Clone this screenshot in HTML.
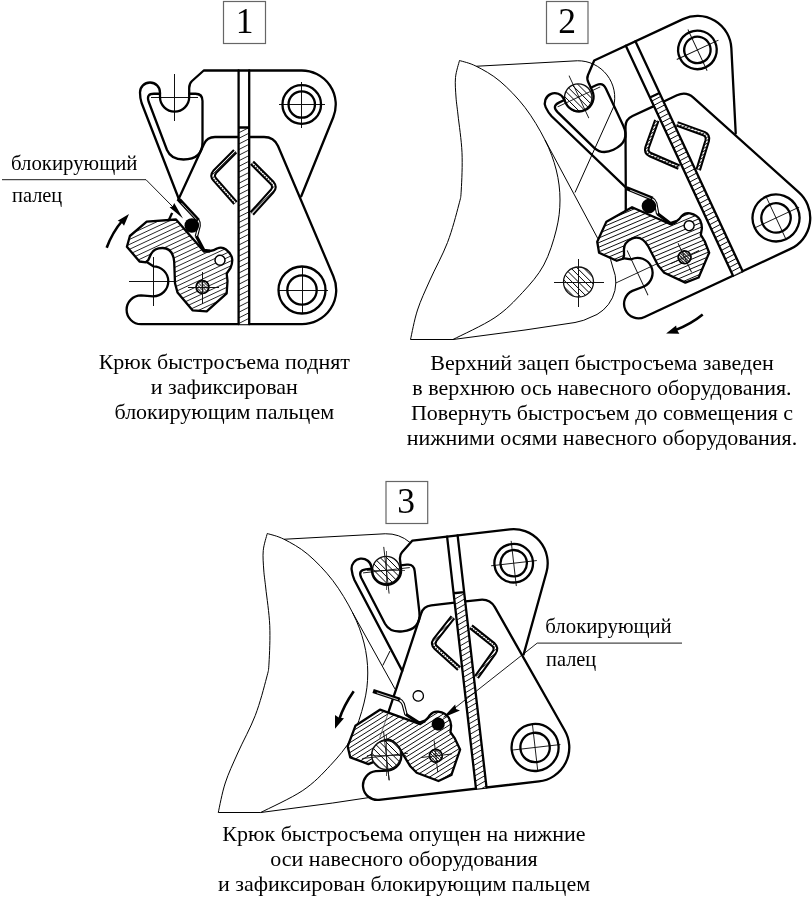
<!DOCTYPE html>
<html lang="ru"><head><meta charset="utf-8"><title>Быстросъем</title>
<style>html,body{margin:0;padding:0;background:#fff}svg{display:block;will-change:transform;opacity:0.999}
.k{fill:none;stroke:#000;stroke-width:2.3;stroke-linejoin:round;stroke-linecap:round}</style></head>
<body><svg width="812" height="900" viewBox="0 0 812 900" font-family="'Liberation Serif', serif" fill="#000">
<rect width="812" height="900" fill="#fff"/>
<path d="M151,97 H198 M174.5,73.5 V120.5 M279,104.5 H325 M301.75,82 V127.5 M278,290 H327.5 M302,266.5 V313 M129,281.3 H175 M153.3,256.5 V306" fill="none" stroke="#111" stroke-width="1.0" shape-rendering="crispEdges"/>
<path d="M178.75,198.75 L141.6,103 Q140,98 140,92.5 A10,10 0 0 1 160,92.5 L160,97 A14.6,14.6 0 0 0 189.2,97 L189.2,88 Q189.2,83.5 192,81 L203.75,70.5 L301.75,70.5 A34.0,34.0 0 0 1 333.27,117.24 L301.25,196.25" class="k"/>
<path d="M160,93.75 L154,93.75 Q146,93.75 148.6,101.5 L167,150 Q171,159.5 183.5,159.5 Q202.5,159.5 202.5,142 L202.5,101 Q202.5,93.75 195.5,93.75 L189.2,93.75" class="k"/>
<path d="M160,239 L178.75,198.75 L204,144 Q207,137 215,137 L238.5,137 M249.5,137 L264,137 Q274,137 278,146 L333.33,276.25 A34.2,34.2 0 0 1 302,324.20 L141,324.20 A14.4,14.4 0 0 1 141,295.4 L153.3,296.3 A15,15 0 0 0 153.3,266.3 L146,261.5" class="k"/>
<clipPath id="c1"><rect x="238.6" y="127.5" width="10.6" height="196.7"/></clipPath><rect x="238.6" y="127.5" width="10.6" height="196.7" fill="#fff" stroke="none"/><path d="M104.4,173.2L283.8,81.8M106.6,177.7L286.0,86.2M108.9,182.1L288.3,90.7M111.2,186.6L290.6,95.1M113.4,191.0L292.8,99.6M115.7,195.5L295.1,104.1M118.0,199.9L297.4,108.5M120.2,204.4L299.7,113.0M122.5,208.8L301.9,117.4M124.8,213.3L304.2,121.9M127.1,217.7L306.5,126.3M129.3,222.2L308.7,130.8M131.6,226.7L311.0,135.2M133.9,231.1L313.3,139.7M136.1,235.6L315.5,144.2M138.4,240.0L317.8,148.6M140.7,244.5L320.1,153.1M142.9,248.9L322.4,157.5M145.2,253.4L324.6,162.0M147.5,257.8L326.9,166.4M149.8,262.3L329.2,170.9M152.0,266.8L331.4,175.3M154.3,271.2L333.7,179.8M156.6,275.7L336.0,184.2M158.8,280.1L338.2,188.7M161.1,284.6L340.5,193.2M163.4,289.0L342.8,197.6M165.6,293.5L345.1,202.1M167.9,297.9L347.3,206.5M170.2,302.4L349.6,211.0M172.5,306.8L351.9,215.4M174.7,311.3L354.1,219.9M177.0,315.8L356.4,224.3M179.3,320.2L358.7,228.8M181.5,324.7L360.9,233.3M183.8,329.1L363.2,237.7M186.1,333.6L365.5,242.2M188.3,338.0L367.8,246.6M190.6,342.5L370.0,251.1M192.9,346.9L372.3,255.5M195.2,351.4L374.6,260.0M197.4,355.9L376.8,264.4M199.7,360.3L379.1,268.9M202.0,364.8L381.4,273.3M204.2,369.2L383.6,277.8" clip-path="url(#c1)" fill="none" stroke="#000" stroke-width="0.85"/>
<path d="M238.6,70.5 V324.2 M249.2,70.5 V324.2 M238.6,127.5 H249.2" class="k"/>
<circle cx="301.75" cy="104.5" r="19.3" class="k"/><circle cx="301.75" cy="104.5" r="13.2" class="k"/>
<circle cx="302" cy="290" r="23.5" class="k"/><circle cx="302" cy="290" r="14.7" class="k"/>
<mask id="m2" maskUnits="userSpaceOnUse" x="200" y="140" width="90" height="85"><rect x="200" y="140" width="90" height="85" fill="#000"/>
<path d="M235.2,151.2 L214.8,171.8 Q211.5,175.7 214.8,179.5 L235.5,203" fill="none" stroke="#fff" stroke-width="1.7" stroke-linejoin="round"/>
<path d="M252,162.8 L272.2,183 Q275.6,187 272.2,191 L251.8,213.5" fill="none" stroke="#fff" stroke-width="1.7" stroke-linejoin="round"/>
</mask>
<path d="M235.2,151.2 L214.8,171.8 Q211.5,175.7 214.8,179.5 L235.5,203" fill="none" stroke="#000" stroke-width="5.6" stroke-linejoin="round" stroke-linecap="butt"/>
<path d="M235.2,151.2 L214.8,171.8 Q211.5,175.7 214.8,179.5 L235.5,203" fill="none" stroke="#fff" stroke-width="1.5" stroke-linejoin="round" stroke-linecap="butt"/>
<path d="M252,162.8 L272.2,183 Q275.6,187 272.2,191 L251.8,213.5" fill="none" stroke="#000" stroke-width="5.6" stroke-linejoin="round" stroke-linecap="butt"/>
<path d="M252,162.8 L272.2,183 Q275.6,187 272.2,191 L251.8,213.5" fill="none" stroke="#fff" stroke-width="1.5" stroke-linejoin="round" stroke-linecap="butt"/>
<path d="M162.5,180.4L242.9,100.0M164.4,182.2L244.7,101.9M166.2,184.1L246.6,103.7M168.0,185.9L248.4,105.5M169.9,187.8L250.3,107.4M171.7,189.6L252.1,109.2M173.6,191.4L253.9,111.1M175.4,193.3L255.8,112.9M177.2,195.1L257.6,114.7M179.1,196.9L259.4,116.6M180.9,198.8L261.3,118.4M182.8,200.6L263.1,120.3M184.6,202.5L265.0,122.1M186.4,204.3L266.8,123.9M188.3,206.1L268.6,125.8M190.1,208.0L270.5,127.6M191.9,209.8L272.3,129.4M193.8,211.7L274.2,131.3M195.6,213.5L276.0,133.1M197.5,215.3L277.8,135.0M199.3,217.2L279.7,136.8M201.1,219.0L281.5,138.6M203.0,220.8L283.3,140.5M204.8,222.7L285.2,142.3M206.7,224.5L287.0,144.2M208.5,226.4L288.9,146.0M210.3,228.2L290.7,147.8M212.2,230.0L292.5,149.7M214.0,231.9L294.4,151.5M215.8,233.7L296.2,153.3M217.7,235.6L298.1,155.2M219.5,237.4L299.9,157.0M221.4,239.2L301.7,158.9M223.2,241.1L303.6,160.7M225.0,242.9L305.4,162.5M226.9,244.7L307.2,164.4M228.7,246.6L309.1,166.2M230.6,248.4L310.9,168.1M232.4,250.3L312.8,169.9M234.2,252.1L314.6,171.7M236.1,253.9L316.4,173.6M237.9,255.8L318.3,175.4M239.7,257.6L320.1,177.2M241.6,259.5L322.0,179.1M243.4,261.3L323.8,180.9M245.3,263.1L325.6,182.8M247.1,265.0L327.5,184.6" mask="url(#m2)" fill="none" stroke="#000" stroke-width="0.9"/>
<path d="M177.6,201 L172.4,213" stroke="#fff" stroke-width="4" fill="none"/>
<clipPath id="c3"><path d="M146.7,221.7 L176,219.5 L204.2,251.7 L210,251 Q214,250.5 217,248.5 Q222,246.5 226,249.5 Q232,254 232.3,260 Q232.3,264 230.5,268 L226.7,273.5 L227.5,281 L226.7,293.3 L206.7,311.3 L192.5,310.3 L177.5,292.5 L175,283.3 L174.2,262 Q173,248 162.5,248 Q154,248 151,254 L148.3,260 L146,262.3 L139.5,261.5 L126.9,246.8 L129.9,236 Z"/></clipPath><path d="M146.7,221.7 L176,219.5 L204.2,251.7 L210,251 Q214,250.5 217,248.5 Q222,246.5 226,249.5 Q232,254 232.3,260 Q232.3,264 230.5,268 L226.7,273.5 L227.5,281 L226.7,293.3 L206.7,311.3 L192.5,310.3 L177.5,292.5 L175,283.3 L174.2,262 Q173,248 162.5,248 Q154,248 151,254 L148.3,260 L146,262.3 L139.5,261.5 L126.9,246.8 L129.9,236 Z" fill="#fff" stroke="none"/><path d="M75.1,220.6L213.4,156.1M77.0,224.7L215.3,160.1M78.9,228.7L217.2,164.2M80.7,232.7L219.1,168.2M82.6,236.8L221.0,172.2M84.5,240.8L222.8,176.3M86.4,244.8L224.7,180.3M88.3,248.9L226.6,184.3M90.1,252.9L228.5,188.4M92.0,256.9L230.4,192.4M93.9,261.0L232.3,196.4M95.8,265.0L234.1,200.5M97.7,269.0L236.0,204.5M99.5,273.1L237.9,208.5M101.4,277.1L239.8,212.6M103.3,281.1L241.7,216.6M105.2,285.2L243.5,220.6M107.1,289.2L245.4,224.7M108.9,293.2L247.3,228.7M110.8,297.3L249.2,232.7M112.7,301.3L251.1,236.8M114.6,305.3L252.9,240.8M116.5,309.4L254.8,244.8M118.3,313.4L256.7,248.9M120.2,317.4L258.6,252.9M122.1,321.5L260.5,256.9M124.0,325.5L262.3,261.0M125.9,329.5L264.2,265.0M127.7,333.6L266.1,269.0M129.6,337.6L268.0,273.1M131.5,341.6L269.9,277.1M133.4,345.7L271.7,281.1M135.3,349.7L273.6,285.2M137.2,353.7L275.5,289.2M139.0,357.8L277.4,293.2M140.9,361.8L279.3,297.3M142.8,365.8L281.1,301.3M144.7,369.9L283.0,305.3M146.6,373.9L284.9,309.4" clip-path="url(#c3)" fill="none" stroke="#000" stroke-width="0.85"/>
<path d="M146.7,221.7 L176,219.5 L204.2,251.7 L210,251 Q214,250.5 217,248.5 Q222,246.5 226,249.5 Q232,254 232.3,260 Q232.3,264 230.5,268 L226.7,273.5 L227.5,281 L226.7,293.3 L206.7,311.3 L192.5,310.3 L177.5,292.5 L175,283.3 L174.2,262 Q173,248 162.5,248 Q154,248 151,254 L148.3,260 L146,262.3 L139.5,261.5 L126.9,246.8 L129.9,236 Z" fill="none" stroke="#000" stroke-width="2.3" stroke-linejoin="round"/>
<circle cx="220" cy="260.3" r="5" fill="#fff" stroke="#000" stroke-width="1.5"/>
<path d="M179.1,199.8 L198.2,220.4" fill="none" stroke="#000" stroke-width="4.2" stroke-linecap="butt"/>
<path d="M181.5,203.2 L196.5,219.4" fill="none" stroke="#fff" stroke-width="0.7"/>
<path d="M198.6,219.2 Q200.8,222 200.3,226 L197.6,236.6 M196.6,221.4 Q198.2,223.2 197.8,226 L195.2,236.4" fill="none" stroke="#000" stroke-width="1.1"/>
<path d="M196.3,236 L204,250.4 L210,251.2" fill="none" stroke="#000" stroke-width="3.2" stroke-linejoin="round"/>
<circle cx="202.5" cy="287" r="6.4" fill="#fff" stroke="none"/>
<clipPath id="c4"><circle cx="202.5" cy="287" r="6.4"/></clipPath>
<path d="M205.5,265.1L224.4,284.0M204.0,266.7L222.8,285.5M202.4,268.3L221.2,287.1M200.9,269.8L219.7,288.6M199.3,271.4L218.1,290.2M197.8,272.9L216.6,291.7M196.2,274.5L215.0,293.3M194.6,276.0L213.5,294.9M193.1,277.6L211.9,296.4M191.5,279.1L210.4,298.0M190.0,280.7L208.8,299.5M188.4,282.3L207.2,301.1M186.9,283.8L205.7,302.6M185.3,285.4L204.1,304.2M183.8,286.9L202.6,305.7M182.2,288.5L201.0,307.3M180.6,290.0L199.5,308.9" clip-path="url(#c4)" fill="none" stroke="#000" stroke-width="0.9"/>
<path d="M180.2,283.5L199.0,264.7M182.1,285.4L200.9,266.6M183.9,287.2L202.7,268.4M185.7,289.1L204.6,270.2M187.6,290.9L206.4,272.1M189.4,292.7L208.2,273.9M191.2,294.6L210.1,275.7M193.1,296.4L211.9,277.6M194.9,298.3L213.8,279.4M196.8,300.1L215.6,281.3M198.6,301.9L217.4,283.1M200.4,303.8L219.3,284.9M202.3,305.6L221.1,286.8M204.1,307.4L222.9,288.6M206.0,309.3L224.8,290.5" clip-path="url(#c4)" fill="none" stroke="#555" stroke-width="0.6"/>
<circle cx="202.5" cy="287" r="6.4" fill="none" stroke="#000" stroke-width="1.7"/>
<path d="M187.5,287 H218.5 M202.5,271.5 V303.5" fill="none" stroke="#111" stroke-width="1.0" shape-rendering="crispEdges"/>
<circle cx="191.8" cy="225.5" r="7.3" fill="#000"/>
<path d="M2,179.7 H146 L173,207" fill="none" stroke="#000" stroke-width="0.9"/>
<path d="M183,218.5 L169.6,207.3 L172.6,206.6 L174.2,203.1 Z" fill="#000"/>
<path d="M106.7,247.7 Q112.5,232 122.5,220.5" fill="none" stroke="#000" stroke-width="2.6"/>
<path d="M129,214 L117.7,220.7 L121.3,222.3 L124,225.7 Z" fill="#000"/>
<path d="M459.50,60.50 C458.83,63.33 456.08,71.42 455.50,77.50 C454.92,83.58 455.58,90.75 456.00,97.00 C456.42,103.25 457.00,105.75 458.00,115.00 C459.00,124.25 461.46,140.00 462.00,152.50 C462.54,165.00 461.79,181.25 461.25,190.00 C460.71,198.75 461.04,196.25 458.75,205.00 C456.46,213.75 452.29,230.00 447.50,242.50 C442.71,255.00 435.00,268.75 430.00,280.00 C425.00,291.25 420.75,300.08 417.50,310.00 C414.25,319.92 411.67,334.58 410.50,339.50 L453,339.5" fill="none" stroke="#000" stroke-width="1.0"/>
<path d="M459.50,60.50 C462.29,61.46 469.50,62.79 476.25,66.25 C483.00,69.71 491.88,74.38 500.00,81.25 C508.12,88.12 517.50,97.71 525.00,107.50 C532.50,117.29 539.79,129.58 545.00,140.00 C550.21,150.42 553.75,160.00 556.25,170.00 C558.75,180.00 560.00,190.00 560.00,200.00 C560.00,210.00 558.96,219.17 556.25,230.00 C553.54,240.83 549.38,254.58 543.75,265.00 C538.12,275.42 530.62,283.75 522.50,292.50 C514.38,301.25 506.58,309.67 495.00,317.50 C483.42,325.33 460.00,335.83 453.00,339.50" fill="none" stroke="#000" stroke-width="1.0"/>
<path d="M476.25,66.25 L577.5,60.75 A36.8,36.8 0 0 1 613.5,107 L575,192.5" fill="none" stroke="#000" stroke-width="1.0"/>
<path d="M545,140 L597.5,238 Q609,250 613,268 A37,37 0 0 1 590,317.5 Q585,320.5 575,322.5 L525,330 L453,339.5" fill="none" stroke="#000" stroke-width="1.0"/>
<clipPath id="c5"><circle cx="578.25" cy="97.5" r="13.7"/></clipPath><circle cx="578.25" cy="97.5" r="13.7" fill="#fff" stroke="none"/><path d="M584.4,59.1L616.6,91.3M581.2,62.3L613.5,94.5M578.0,65.5L610.3,97.7M574.9,68.7L607.1,100.9M571.7,71.8L603.9,104.1M568.5,75.0L600.7,107.3M565.3,78.2L597.5,110.4M562.1,81.4L594.4,113.6M559.0,84.6L591.2,116.8M555.8,87.7L588.0,120.0M552.6,90.9L584.8,123.2M549.4,94.1L581.6,126.3M546.2,97.3L578.5,129.5M543.0,100.5L575.3,132.7M539.9,103.7L572.1,135.9" clip-path="url(#c5)" fill="none" stroke="#000" stroke-width="1.0"/>
<circle cx="578.25" cy="97.5" r="13.7" fill="none" stroke="#111" stroke-width="1.3"/>
<clipPath id="c6"><circle cx="578.5" cy="282" r="15"/></clipPath><circle cx="578.5" cy="282" r="15" fill="#fff" stroke="none"/><path d="M583.4,242.3L618.2,277.1M580.2,245.5L615.0,280.3M577.0,248.7L611.8,283.5M573.8,251.9L608.6,286.7M570.6,255.0L605.5,289.9M567.4,258.2L602.3,293.1M564.3,261.4L599.1,296.2M561.1,264.6L595.9,299.4M557.9,267.8L592.7,302.6M554.7,270.9L589.6,305.8M551.5,274.1L586.4,309.0M548.4,277.3L583.2,312.1M545.2,280.5L580.0,315.3M542.0,283.7L576.8,318.5M538.8,286.9L573.6,321.7" clip-path="url(#c6)" fill="none" stroke="#000" stroke-width="1.0"/>
<circle cx="578.5" cy="282" r="15" fill="none" stroke="#111" stroke-width="1.3"/>
<path d="M553.5,282 H604.0 M578.5,258.5 V306.5" fill="none" stroke="#111" stroke-width="1" shape-rendering="crispEdges"/>
<g transform="translate(697.4,49.9) rotate(-25.0) translate(-301.75,-104.5)">
<path d="M151,97 H198 M174.5,73.5 V120.5 M279,104.5 H325 M301.75,82 V127.5 M278,290 H327.5 M302,266.5 V313 M129,281.3 H175 M153.3,256.5 V306" fill="none" stroke="#111" stroke-width="0.9"/>
<path d="M178.75,198.75 L141.6,103 Q140,98 140,92.5 A10,10 0 0 1 160,92.5 L160,97 A14.6,14.6 0 0 0 189.2,97 L189.2,88 Q189.2,83.5 192,81 L203.75,70.5 L301.75,70.5 A34.0,34.0 0 0 1 333.27,117.24 L301.25,196.25" class="k"/>
<path d="M160,93.75 L154,93.75 Q146,93.75 148.6,101.5 L167,150 Q171,159.5 183.5,159.5 Q202.5,159.5 202.5,142 L202.5,101 Q202.5,93.75 195.5,93.75 L189.2,93.75" class="k"/>
<path d="M160,239 L178.75,198.75 L204,144 Q207,137 215,137 L238.5,137 M249.5,137 L264,137 Q274,137 278,146 L333.33,276.25 A34.2,34.2 0 0 1 302,324.20 L141,324.20 A14.4,14.4 0 0 1 141,295.4 L153.3,296.3 A15,15 0 0 0 153.3,266.3 L146,261.5" class="k"/>
<clipPath id="c7"><rect x="238.6" y="127.5" width="10.6" height="196.7"/></clipPath><rect x="238.6" y="127.5" width="10.6" height="196.7" fill="#fff" stroke="none"/><path d="M137.8,122.8L338.9,112.3M138.0,127.5L339.1,117.0M138.3,132.2L339.4,121.7M138.5,136.9L339.6,126.4M138.8,141.6L339.9,131.1M139.0,146.3L340.1,135.7M139.3,151.0L340.4,140.4M139.5,155.7L340.6,145.1M139.8,160.4L340.9,149.8M140.0,165.1L341.1,154.5M140.3,169.8L341.3,159.2M140.5,174.4L341.6,163.9M140.7,179.1L341.8,168.6M141.0,183.8L342.1,173.3M141.2,188.5L342.3,178.0M141.5,193.2L342.6,182.7M141.7,197.9L342.8,187.4M142.0,202.6L343.1,192.1M142.2,207.3L343.3,196.8M142.5,212.0L343.6,201.5M142.7,216.7L343.8,206.2M143.0,221.4L344.1,210.8M143.2,226.1L344.3,215.5M143.5,230.8L344.5,220.2M143.7,235.5L344.8,224.9M143.9,240.2L345.0,229.6M144.2,244.8L345.3,234.3M144.4,249.5L345.5,239.0M144.7,254.2L345.8,243.7M144.9,258.9L346.0,248.4M145.2,263.6L346.3,253.1M145.4,268.3L346.5,257.8M145.7,273.0L346.8,262.5M145.9,277.7L347.0,267.2M146.2,282.4L347.3,271.9M146.4,287.1L347.5,276.6M146.7,291.8L347.7,281.2M146.9,296.5L348.0,285.9M147.1,301.2L348.2,290.6M147.4,305.9L348.5,295.3M147.6,310.6L348.7,300.0M147.9,315.3L349.0,304.7M148.1,319.9L349.2,309.4M148.4,324.6L349.5,314.1M148.6,329.3L349.7,318.8M148.9,334.0L350.0,323.5M149.1,338.7L350.2,328.2" clip-path="url(#c7)" fill="none" stroke="#000" stroke-width="0.85"/>
<path d="M238.6,70.5 V324.2 M249.2,70.5 V324.2 M238.6,127.5 H249.2" class="k"/>
<circle cx="301.75" cy="104.5" r="19.3" class="k"/><circle cx="301.75" cy="104.5" r="13.2" class="k"/>
<circle cx="302" cy="290" r="23.5" class="k"/><circle cx="302" cy="290" r="14.7" class="k"/>
<mask id="m8" maskUnits="userSpaceOnUse" x="200" y="140" width="90" height="85"><rect x="200" y="140" width="90" height="85" fill="#000"/>
<path d="M235.2,151.2 L214.8,171.8 Q211.5,175.7 214.8,179.5 L235.5,203" fill="none" stroke="#fff" stroke-width="1.7" stroke-linejoin="round"/>
<path d="M252,162.8 L272.2,183 Q275.6,187 272.2,191 L251.8,213.5" fill="none" stroke="#fff" stroke-width="1.7" stroke-linejoin="round"/>
</mask>
<path d="M235.2,151.2 L214.8,171.8 Q211.5,175.7 214.8,179.5 L235.5,203" fill="none" stroke="#000" stroke-width="5.6" stroke-linejoin="round" stroke-linecap="butt"/>
<path d="M235.2,151.2 L214.8,171.8 Q211.5,175.7 214.8,179.5 L235.5,203" fill="none" stroke="#fff" stroke-width="1.5" stroke-linejoin="round" stroke-linecap="butt"/>
<path d="M252,162.8 L272.2,183 Q275.6,187 272.2,191 L251.8,213.5" fill="none" stroke="#000" stroke-width="5.6" stroke-linejoin="round" stroke-linecap="butt"/>
<path d="M252,162.8 L272.2,183 Q275.6,187 272.2,191 L251.8,213.5" fill="none" stroke="#fff" stroke-width="1.5" stroke-linejoin="round" stroke-linecap="butt"/>
<path d="M183.2,127.9L296.4,118.0M183.4,130.5L296.6,120.6M183.6,133.1L296.9,123.2M183.9,135.7L297.1,125.7M184.1,138.2L297.3,128.3M184.3,140.8L297.5,130.9M184.5,143.4L297.8,133.5M184.8,146.0L298.0,136.1M185.0,148.6L298.2,138.7M185.2,151.2L298.4,141.3M185.4,153.8L298.7,143.9M185.7,156.4L298.9,146.5M185.9,159.0L299.1,149.1M186.1,161.6L299.3,151.6M186.3,164.1L299.6,154.2M186.6,166.7L299.8,156.8M186.8,169.3L300.0,159.4M187.0,171.9L300.3,162.0M187.3,174.5L300.5,164.6M187.5,177.1L300.7,167.2M187.7,179.7L300.9,169.8M187.9,182.3L301.2,172.4M188.2,184.9L301.4,175.0M188.4,187.5L301.6,177.5M188.6,190.0L301.8,180.1M188.8,192.6L302.1,182.7M189.1,195.2L302.3,185.3M189.3,197.8L302.5,187.9M189.5,200.4L302.7,190.5M189.7,203.0L303.0,193.1M190.0,205.6L303.2,195.7M190.2,208.2L303.4,198.3M190.4,210.8L303.7,200.9M190.7,213.4L303.9,203.4M190.9,215.9L304.1,206.0M191.1,218.5L304.3,208.6M191.3,221.1L304.6,211.2M191.6,223.7L304.8,213.8M191.8,226.3L305.0,216.4M192.0,228.9L305.2,219.0M192.2,231.5L305.5,221.6M192.5,234.1L305.7,224.2M192.7,236.7L305.9,226.8M192.9,239.3L306.1,229.3M193.1,241.8L306.4,231.9M193.4,244.4L306.6,234.5M193.6,247.0L306.8,237.1" mask="url(#m8)" fill="none" stroke="#000" stroke-width="0.9"/>
<clipPath id="c9"><path d="M146.7,221.7 L176,219.5 L204.2,251.7 L210,251 Q214,250.5 217,248.5 Q222,246.5 226,249.5 Q232,254 232.3,260 Q232.3,264 230.5,268 L226.7,273.5 L227.5,281 L226.7,293.3 L206.7,311.3 L192.5,310.3 L177.5,292.5 L175,283.3 L174.2,262 Q173,248 162.5,248 Q154,248 151,254 L148.3,260 L146,262.3 L139.5,261.5 L126.9,246.8 L129.9,236 Z"/></clipPath><path d="M146.7,221.7 L176,219.5 L204.2,251.7 L210,251 Q214,250.5 217,248.5 Q222,246.5 226,249.5 Q232,254 232.3,260 Q232.3,264 230.5,268 L226.7,273.5 L227.5,281 L226.7,293.3 L206.7,311.3 L192.5,310.3 L177.5,292.5 L175,283.3 L174.2,262 Q173,248 162.5,248 Q154,248 151,254 L148.3,260 L146,262.3 L139.5,261.5 L126.9,246.8 L129.9,236 Z" fill="#fff" stroke="none"/><path d="M106.6,180.7L259.1,186.0M106.4,185.0L259.0,190.3M106.3,189.3L258.8,194.6M106.1,193.6L258.7,198.9M106.0,197.9L258.5,203.2M105.8,202.2L258.4,207.5M105.7,206.5L258.2,211.8M105.5,210.8L258.1,216.1M105.4,215.1L257.9,220.4M105.2,219.4L257.8,224.7M105.1,223.7L257.6,229.0M104.9,228.0L257.5,233.3M104.8,232.3L257.3,237.6M104.6,236.6L257.2,241.9M104.5,240.8L257.0,246.2M104.3,245.1L256.9,250.5M104.2,249.4L256.7,254.8M104.0,253.7L256.6,259.1M103.9,258.0L256.4,263.4M103.7,262.3L256.3,267.7M103.6,266.6L256.1,272.0M103.4,270.9L256.0,276.3M103.3,275.2L255.8,280.6M103.1,279.5L255.7,284.9M103.0,283.8L255.5,289.2M102.8,288.1L255.4,293.4M102.7,292.4L255.2,297.7M102.5,296.7L255.1,302.0M102.4,301.0L254.9,306.3M102.2,305.3L254.8,310.6M102.1,309.6L254.6,314.9M101.9,313.9L254.5,319.2M101.8,318.2L254.3,323.5M101.6,322.5L254.2,327.8M101.5,326.8L254.0,332.1M101.3,331.1L253.9,336.4M101.2,335.4L253.7,340.7M101.0,339.7L253.6,345.0M100.9,344.0L253.4,349.3" clip-path="url(#c9)" fill="none" stroke="#000" stroke-width="0.85"/>
<path d="M146.7,221.7 L176,219.5 L204.2,251.7 L210,251 Q214,250.5 217,248.5 Q222,246.5 226,249.5 Q232,254 232.3,260 Q232.3,264 230.5,268 L226.7,273.5 L227.5,281 L226.7,293.3 L206.7,311.3 L192.5,310.3 L177.5,292.5 L175,283.3 L174.2,262 Q173,248 162.5,248 Q154,248 151,254 L148.3,260 L146,262.3 L139.5,261.5 L126.9,246.8 L129.9,236 Z" fill="none" stroke="#000" stroke-width="2.3" stroke-linejoin="round"/>
<circle cx="220" cy="260.3" r="5" fill="#fff" stroke="#000" stroke-width="1.5"/>
<path d="M179.1,199.8 L198.2,220.4" fill="none" stroke="#000" stroke-width="4.2" stroke-linecap="butt"/>
<path d="M181.5,203.2 L196.5,219.4" fill="none" stroke="#fff" stroke-width="0.7"/>
<path d="M198.6,219.2 Q200.8,222 200.3,226 L197.6,236.6 M196.6,221.4 Q198.2,223.2 197.8,226 L195.2,236.4" fill="none" stroke="#000" stroke-width="1.1"/>
<path d="M196.3,236 L204,250.4 L210,251.2" fill="none" stroke="#000" stroke-width="3.2" stroke-linejoin="round"/>
<circle cx="202.5" cy="287" r="6.4" fill="#fff" stroke="none"/>
<clipPath id="c10"><circle cx="202.5" cy="287" r="6.4"/></clipPath>
<path d="M214.5,268.5L223.6,293.5M212.4,269.2L221.5,294.2M210.4,270.0L219.5,295.0M208.3,270.7L217.4,295.7M206.2,271.5L215.3,296.5M204.1,272.2L213.3,297.3M202.1,273.0L211.2,298.0M200.0,273.7L209.1,298.8M197.9,274.5L207.1,299.5M195.9,275.2L205.0,300.3M193.8,276.0L202.9,301.0M191.7,276.7L200.9,301.8M189.7,277.5L198.8,302.5M187.6,278.3L196.7,303.3M185.5,279.0L194.6,304.0M183.5,279.8L192.6,304.8M181.4,280.5L190.5,305.5" clip-path="url(#c10)" fill="none" stroke="#000" stroke-width="0.9"/>
<path d="M183.8,274.5L208.8,265.3M184.7,276.9L209.7,267.8M185.5,279.3L210.6,270.2M186.4,281.8L211.5,272.7M187.3,284.2L212.3,275.1M188.2,286.7L213.2,277.6M189.1,289.1L214.1,280.0M190.0,291.6L215.0,282.4M190.9,294.0L215.9,284.9M191.8,296.4L216.8,287.3M192.7,298.9L217.7,289.8M193.5,301.3L218.6,292.2M194.4,303.8L219.5,294.7M195.3,306.2L220.3,297.1M196.2,308.7L221.2,299.5" clip-path="url(#c10)" fill="none" stroke="#555" stroke-width="0.6"/>
<circle cx="202.5" cy="287" r="6.4" fill="none" stroke="#000" stroke-width="1.7"/>
<path d="M187.5,287 H218.5 M202.5,271.5 V303.5" fill="none" stroke="#111" stroke-width="0.9"/>
<circle cx="191.8" cy="225.5" r="7.3" fill="#000"/>
</g>
<path d="M702.7,314.4 Q691,324 675,330.2" fill="none" stroke="#000" stroke-width="2.6"/>
<path d="M666.1,333.6 L676.1,325.5 L677,330 L679.4,333.8 Z" fill="#000"/>
<g transform="translate(-192.25,473)">
<path d="M459.50,60.50 C458.83,63.33 456.08,71.42 455.50,77.50 C454.92,83.58 455.58,90.75 456.00,97.00 C456.42,103.25 457.00,105.75 458.00,115.00 C459.00,124.25 461.46,140.00 462.00,152.50 C462.54,165.00 461.79,181.25 461.25,190.00 C460.71,198.75 461.04,196.25 458.75,205.00 C456.46,213.75 452.29,230.00 447.50,242.50 C442.71,255.00 435.00,268.75 430.00,280.00 C425.00,291.25 420.75,300.08 417.50,310.00 C414.25,319.92 411.67,334.58 410.50,339.50 L453,339.5" fill="none" stroke="#000" stroke-width="1.0"/>
<path d="M459.50,60.50 C462.29,61.46 469.50,62.79 476.25,66.25 C483.00,69.71 491.88,74.38 500.00,81.25 C508.12,88.12 517.50,97.71 525.00,107.50 C532.50,117.29 539.79,129.58 545.00,140.00 C550.21,150.42 553.75,160.00 556.25,170.00 C558.75,180.00 560.00,190.00 560.00,200.00 C560.00,210.00 558.96,219.17 556.25,230.00 C553.54,240.83 549.38,254.58 543.75,265.00 C538.12,275.42 530.62,283.75 522.50,292.50 C514.38,301.25 506.58,309.67 495.00,317.50 C483.42,325.33 460.00,335.83 453.00,339.50" fill="none" stroke="#000" stroke-width="1.0"/>
<path d="M476.25,66.25 L577.5,60.75 A36.8,36.8 0 0 1 602.3,69.5 M582.25,178 L575,192.5" fill="none" stroke="#000" stroke-width="1.0"/>
<path d="M545,140 L587.25,216 M563,324.3 L525,330 L453,339.5" fill="none" stroke="#000" stroke-width="1.0"/>
</g>
<clipPath id="c11"><circle cx="386.25" cy="570" r="13.7"/></clipPath><circle cx="386.25" cy="570" r="13.7" fill="#fff" stroke="none"/><path d="M392.4,531.6L424.6,563.8M389.2,534.8L421.5,567.0M386.0,538.0L418.3,570.2M382.9,541.2L415.1,573.4M379.7,544.3L411.9,576.6M376.5,547.5L408.7,579.8M373.3,550.7L405.5,582.9M370.1,553.9L402.4,586.1M367.0,557.1L399.2,589.3M363.8,560.2L396.0,592.5M360.6,563.4L392.8,595.7M357.4,566.6L389.6,598.8M354.2,569.8L386.5,602.0M351.0,573.0L383.3,605.2M347.9,576.2L380.1,608.4" clip-path="url(#c11)" fill="none" stroke="#000" stroke-width="1.0"/>
<circle cx="386.25" cy="570" r="13.7" fill="none" stroke="#111" stroke-width="1.3"/>
<g transform="translate(513.7,563.2) rotate(-6.54) translate(-301.75,-104.5)">
<path d="M151,97 H198 M174.5,73.5 V120.5 M279,104.5 H325 M301.75,82 V127.5 M278,290 H327.5 M302,266.5 V313 M129,281.3 H175 M153.3,256.5 V306" fill="none" stroke="#111" stroke-width="0.9"/>
<path d="M178.75,198.75 L141.6,103 Q140,98 140,92.5 A10,10 0 0 1 160,92.5 L160,97 A14.6,14.6 0 0 0 189.2,97 L189.2,88 Q189.2,83.5 192,81 L203.75,70.5 L301.75,70.5 A34.0,34.0 0 0 1 333.27,117.24 L301.25,196.25" class="k"/>
<path d="M160,93.75 L154,93.75 Q146,93.75 148.6,101.5 L167,150 Q171,159.5 183.5,159.5 Q202.5,159.5 202.5,142 L202.5,101 Q202.5,93.75 195.5,93.75 L189.2,93.75" class="k"/>
<path d="M160,239 L178.75,198.75 L204,144 Q207,137 215,137 L238.5,137 M249.5,137 L264,137 Q274,137 278,146 L333.33,276.25 A34.2,34.2 0 0 1 302,324.20 L141,324.20 A14.4,14.4 0 0 1 141,295.4 L153.3,296.3 A15,15 0 0 0 153.3,266.3 L146,261.5" class="k"/>
<clipPath id="c12"><rect x="238.6" y="127.5" width="10.6" height="196.7"/></clipPath><rect x="238.6" y="127.5" width="10.6" height="196.7" fill="#fff" stroke="none"/><path d="M109.6,168.7L294.3,88.5M111.5,173.1L296.2,92.9M113.4,177.5L298.1,97.4M115.3,181.9L300.1,101.8M117.2,186.3L302.0,106.2M119.2,190.7L303.9,110.6M121.1,195.1L305.8,115.0M123.0,199.5L307.7,119.4M124.9,203.9L309.6,123.8M126.8,208.3L311.5,128.2M128.7,212.7L313.4,132.6M130.6,217.1L315.3,137.0M132.5,221.6L317.3,141.4M134.4,226.0L319.2,145.8M136.4,230.4L321.1,150.2M138.3,234.8L323.0,154.6M140.2,239.2L324.9,159.0M142.1,243.6L326.8,163.4M144.0,248.0L328.7,167.8M145.9,252.4L330.6,172.2M147.8,256.8L332.5,176.6M149.7,261.2L334.4,181.0M151.6,265.6L336.4,185.4M153.6,270.0L338.3,189.8M155.5,274.4L340.2,194.2M157.4,278.8L342.1,198.6M159.3,283.2L344.0,203.0M161.2,287.6L345.9,207.4M163.1,292.0L347.8,211.8M165.0,296.4L349.7,216.2M166.9,300.8L351.6,220.6M168.8,305.2L353.6,225.0M170.7,309.6L355.5,229.4M172.7,314.0L357.4,233.9M174.6,318.4L359.3,238.3M176.5,322.8L361.2,242.7M178.4,327.2L363.1,247.1M180.3,331.6L365.0,251.5M182.2,336.0L366.9,255.9M184.1,340.4L368.8,260.3M186.0,344.8L370.8,264.7M187.9,349.2L372.7,269.1M189.9,353.6L374.6,273.5M191.8,358.1L376.5,277.9M193.7,362.5L378.4,282.3" clip-path="url(#c12)" fill="none" stroke="#000" stroke-width="0.85"/>
<path d="M238.6,70.5 V324.2 M249.2,70.5 V324.2 M238.6,127.5 H249.2" class="k"/>
<circle cx="301.75" cy="104.5" r="19.3" class="k"/><circle cx="301.75" cy="104.5" r="13.2" class="k"/>
<circle cx="302" cy="290" r="23.5" class="k"/><circle cx="302" cy="290" r="14.7" class="k"/>
<mask id="m13" maskUnits="userSpaceOnUse" x="200" y="140" width="90" height="85"><rect x="200" y="140" width="90" height="85" fill="#000"/>
<path d="M235.2,151.2 L214.8,171.8 Q211.5,175.7 214.8,179.5 L235.5,203" fill="none" stroke="#fff" stroke-width="1.7" stroke-linejoin="round"/>
<path d="M252,162.8 L272.2,183 Q275.6,187 272.2,191 L251.8,213.5" fill="none" stroke="#fff" stroke-width="1.7" stroke-linejoin="round"/>
</mask>
<path d="M235.2,151.2 L214.8,171.8 Q211.5,175.7 214.8,179.5 L235.5,203" fill="none" stroke="#000" stroke-width="5.6" stroke-linejoin="round" stroke-linecap="butt"/>
<path d="M235.2,151.2 L214.8,171.8 Q211.5,175.7 214.8,179.5 L235.5,203" fill="none" stroke="#fff" stroke-width="1.5" stroke-linejoin="round" stroke-linecap="butt"/>
<path d="M252,162.8 L272.2,183 Q275.6,187 272.2,191 L251.8,213.5" fill="none" stroke="#000" stroke-width="5.6" stroke-linejoin="round" stroke-linecap="butt"/>
<path d="M252,162.8 L272.2,183 Q275.6,187 272.2,191 L251.8,213.5" fill="none" stroke="#fff" stroke-width="1.5" stroke-linejoin="round" stroke-linecap="butt"/>
<path d="M164.6,163.9L259.4,101.3M166.1,166.1L260.9,103.4M167.5,168.3L262.3,105.6M168.9,170.5L263.7,107.8M170.4,172.6L265.2,110.0M171.8,174.8L266.6,112.1M173.2,177.0L268.0,114.3M174.7,179.1L269.5,116.5M176.1,181.3L270.9,118.6M177.5,183.5L272.3,120.8M179.0,185.6L273.8,123.0M180.4,187.8L275.2,125.1M181.8,190.0L276.6,127.3M183.3,192.1L278.1,129.5M184.7,194.3L279.5,131.6M186.1,196.5L280.9,133.8M187.6,198.6L282.4,136.0M189.0,200.8L283.8,138.2M190.4,203.0L285.2,140.3M191.9,205.2L286.7,142.5M193.3,207.3L288.1,144.7M194.7,209.5L289.5,146.8M196.2,211.7L291.0,149.0M197.6,213.8L292.4,151.2M199.0,216.0L293.8,153.3M200.5,218.2L295.3,155.5M201.9,220.3L296.7,157.7M203.3,222.5L298.1,159.8M204.8,224.7L299.6,162.0M206.2,226.8L301.0,164.2M207.6,229.0L302.4,166.4M209.1,231.2L303.9,168.5M210.5,233.4L305.3,170.7M211.9,235.5L306.7,172.9M213.4,237.7L308.2,175.0M214.8,239.9L309.6,177.2M216.2,242.0L311.0,179.4M217.7,244.2L312.5,181.5M219.1,246.4L313.9,183.7M220.5,248.5L315.3,185.9M222.0,250.7L316.8,188.0M223.4,252.9L318.2,190.2M224.8,255.0L319.6,192.4M226.3,257.2L321.1,194.5M227.7,259.4L322.5,196.7M229.1,261.6L323.9,198.9M230.6,263.7L325.4,201.1" mask="url(#m13)" fill="none" stroke="#000" stroke-width="0.9"/>
<circle cx="191.8" cy="225.5" r="5.2" fill="#fff" stroke="#000" stroke-width="1.3"/>
<g transform="rotate(-22.5,202.5,287)">
<clipPath id="c14"><path d="M146.7,221.7 L176,219.5 L204.2,251.7 L210,251 Q214,250.5 217,248.5 Q222,246.5 226,249.5 Q232,254 232.3,260 Q232.3,264 230.5,268 L226.7,273.5 L227.5,281 L226.7,293.3 L206.7,311.3 L192.5,310.3 L177.5,292.5 L175,283.3 L174.2,262 Q173,248 162.5,248 Q154,248 151,254 L148.3,260 L146,262.3 L139.5,261.5 L126.9,246.8 L129.9,236 Z"/></clipPath><path d="M146.7,221.7 L176,219.5 L204.2,251.7 L210,251 Q214,250.5 217,248.5 Q222,246.5 226,249.5 Q232,254 232.3,260 Q232.3,264 230.5,268 L226.7,273.5 L227.5,281 L226.7,293.3 L206.7,311.3 L192.5,310.3 L177.5,292.5 L175,283.3 L174.2,262 Q173,248 162.5,248 Q154,248 151,254 L148.3,260 L146,262.3 L139.5,261.5 L126.9,246.8 L129.9,236 Z" fill="#fff" stroke="none"/><path d="M99.4,185.1L251.9,177.2M99.7,189.2L252.1,181.4M99.9,193.4L252.3,185.6M100.1,197.6L252.5,189.8M100.3,201.8L252.8,193.9M100.5,206.0L253.0,198.1M100.7,210.2L253.2,202.3M101.0,214.4L253.4,206.5M101.2,218.6L253.6,210.7M101.4,222.8L253.8,214.9M101.6,227.0L254.1,219.1M101.8,231.2L254.3,223.3M102.0,235.4L254.5,227.5M102.3,239.6L254.7,231.7M102.5,243.8L254.9,235.9M102.7,248.0L255.1,240.1M102.9,252.2L255.4,244.3M103.1,256.4L255.6,248.5M103.3,260.6L255.8,252.7M103.6,264.7L256.0,256.9M103.8,268.9L256.2,261.1M104.0,273.1L256.4,265.3M104.2,277.3L256.7,269.4M104.4,281.5L256.9,273.6M104.6,285.7L257.1,277.8M104.9,289.9L257.3,282.0M105.1,294.1L257.5,286.2M105.3,298.3L257.7,290.4M105.5,302.5L258.0,294.6M105.7,306.7L258.2,298.8M105.9,310.9L258.4,303.0M106.2,315.1L258.6,307.2M106.4,319.3L258.8,311.4M106.6,323.5L259.0,315.6M106.8,327.7L259.3,319.8M107.0,331.9L259.5,324.0M107.2,336.1L259.7,328.2M107.5,340.2L259.9,332.4M107.7,344.4L260.1,336.6M107.9,348.6L260.3,340.8M108.1,352.8L260.6,344.9" clip-path="url(#c14)" fill="none" stroke="#000" stroke-width="0.85"/>
<path d="M146.7,221.7 L176,219.5 L204.2,251.7 L210,251 Q214,250.5 217,248.5 Q222,246.5 226,249.5 Q232,254 232.3,260 Q232.3,264 230.5,268 L226.7,273.5 L227.5,281 L226.7,293.3 L206.7,311.3 L192.5,310.3 L177.5,292.5 L175,283.3 L174.2,262 Q173,248 162.5,248 Q154,248 151,254 L148.3,260 L146,262.3 L139.5,261.5 L126.9,246.8 L129.9,236 Z" fill="none" stroke="#000" stroke-width="2.3" stroke-linejoin="round"/>
<circle cx="220" cy="260.3" r="6.6" fill="#000"/>
<path d="M179.1,199.8 L198.2,220.4" fill="none" stroke="#000" stroke-width="4.2" stroke-linecap="butt"/>
<path d="M181.5,203.2 L196.5,219.4" fill="none" stroke="#fff" stroke-width="0.7"/>
<path d="M198.6,219.2 Q200.8,222 200.3,226 L197.6,236.6 M196.6,221.4 Q198.2,223.2 197.8,226 L195.2,236.4" fill="none" stroke="#000" stroke-width="1.1"/>
<path d="M196.3,236 L204,250.4 L210,251.2" fill="none" stroke="#000" stroke-width="3.2" stroke-linejoin="round"/>
</g>
<path d="M160,239 L148.5,263.5" fill="none" stroke="#222" stroke-width="0.6"/>
<circle cx="202.5" cy="287" r="6.4" fill="#fff" stroke="none"/>
<clipPath id="c15"><circle cx="202.5" cy="287" r="6.4"/></clipPath>
<path d="M208.0,265.6L224.6,286.5M206.3,267.0L222.8,287.8M204.6,268.4L221.1,289.2M202.8,269.7L219.4,290.6M201.1,271.1L217.7,292.0M199.4,272.5L215.9,293.3M197.7,273.8L214.2,294.7M195.9,275.2L212.5,296.1M194.2,276.6L210.8,297.4M192.5,277.9L209.1,298.8M190.8,279.3L207.3,300.2M189.1,280.7L205.6,301.5M187.3,282.0L203.9,302.9M185.6,283.4L202.2,304.3M183.9,284.8L200.4,305.6M182.2,286.2L198.7,307.0M180.4,287.5L197.0,308.4" clip-path="url(#c15)" fill="none" stroke="#000" stroke-width="0.9"/>
<path d="M180.8,281.0L201.6,264.5M182.4,283.1L203.2,266.5M184.0,285.1L204.8,268.5M185.6,287.1L206.5,270.6M187.2,289.2L208.1,272.6M188.8,291.2L209.7,274.6M190.5,293.2L211.3,276.7M192.1,295.3L212.9,278.7M193.7,297.3L214.5,280.8M195.3,299.4L216.2,282.8M196.9,301.4L217.8,284.8M198.5,303.4L219.4,286.9M200.2,305.5L221.0,288.9M201.8,307.5L222.6,290.9M203.4,309.5L224.2,293.0" clip-path="url(#c15)" fill="none" stroke="#555" stroke-width="0.6"/>
<circle cx="202.5" cy="287" r="6.4" fill="none" stroke="#000" stroke-width="1.7"/>
<path d="M187.5,287 H218.5 M202.5,271.5 V303.5" fill="none" stroke="#111" stroke-width="0.9"/>
</g>
<clipPath id="c16"><circle cx="386.3" cy="755" r="14.6"/></clipPath><circle cx="386.3" cy="755" r="14.6" fill="#fff" stroke="none"/><path d="M391.6,715.7L425.6,749.7M388.4,718.9L422.4,752.9M385.2,722.1L419.2,756.1M382.0,725.3L416.0,759.3M378.8,728.4L412.9,762.5M375.6,731.6L409.7,765.7M372.5,734.8L406.5,768.8M369.3,738.0L403.3,772.0M366.1,741.2L400.1,775.2M362.9,744.3L397.0,778.4M359.7,747.5L393.8,781.6M356.6,750.7L390.6,784.7M353.4,753.9L387.4,787.9M350.2,757.1L384.2,791.1M347.0,760.3L381.0,794.3" clip-path="url(#c16)" fill="none" stroke="#000" stroke-width="1.0"/>
<circle cx="386.3" cy="755" r="14.6" fill="none" stroke="#111" stroke-width="1.5"/>
<g transform="translate(513.7,563.2) rotate(-6.54) translate(-301.75,-104.5)"><path d="M129,281.3 H175 M153.3,256.5 V306" fill="none" stroke="#111" stroke-width="0.9"/></g>
<path d="M367,755.5 H406 M386.5,735 V776 M367,570.5 H405 M386.5,551 V590" fill="none" stroke="#111" stroke-width="0.7"/>
<path d="M682,643.1 H537.2 L454,708.7" fill="none" stroke="#000" stroke-width="0.9"/>
<path d="M442.8,717.8 L455.2,704.6 L456,709 L460,710.6 Z" fill="#000"/>
<path d="M353.7,691.3 Q343.5,706 339,720" fill="none" stroke="#000" stroke-width="2.6"/>
<path d="M335,728.7 L335,715 L339,717.8 L344,718.3 Z" fill="#000"/>
<rect x="223.5" y="1.5" width="42" height="42" fill="#fff" stroke="#666" stroke-width="1.2"/><text x="244.5" y="33" font-size="35.5" text-anchor="middle">1</text>
<rect x="546.5" y="1.5" width="41.5" height="42" fill="#fff" stroke="#666" stroke-width="1.2"/><text x="567" y="33" font-size="35.5" text-anchor="middle">2</text>
<rect x="386" y="481.5" width="41.7" height="42" fill="#fff" stroke="#666" stroke-width="1.2"/><text x="406" y="513" font-size="35.5" text-anchor="middle">3</text>
<text x="11" y="170.2" font-size="20.8">блокирующий</text>
<text x="12" y="201.8" font-size="20.4">палец</text>
<text x="545.3" y="633.4" font-size="20.8">блокирующий</text>
<text x="546" y="665.5" font-size="20.4">палец</text>
<text x="224.3" y="369.3" font-size="22" text-anchor="middle">Крюк быстросъема поднят</text><text x="224.3" y="394.3" font-size="22" text-anchor="middle">и зафиксирован</text><text x="224.3" y="419.3" font-size="22" text-anchor="middle">блокирующим пальцем</text>
<text x="602" y="369.9" font-size="22" text-anchor="middle">Верхний зацеп быстросъема заведен</text><text x="602" y="394.9" font-size="22" text-anchor="middle">в верхнюю ось навесного оборудования.</text><text x="602" y="419.9" font-size="22" text-anchor="middle">Повернуть быстросъем до совмещения с</text><text x="602" y="444.9" font-size="22" text-anchor="middle">нижними осями навесного оборудования.</text>
<text x="404" y="840.6" font-size="22" text-anchor="middle">Крюк быстросъема опущен на нижние</text><text x="404" y="865.6" font-size="22" text-anchor="middle">оси навесного оборудования</text><text x="404" y="890.6" font-size="22" text-anchor="middle">и зафиксирован блокирующим пальцем</text>
</svg></body></html>
